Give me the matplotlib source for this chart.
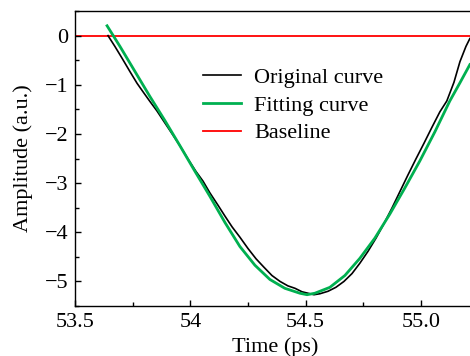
import numpy as np
from matplotlib import pyplot as plt
from matplotlib.ticker import FixedLocator, FixedFormatter, MultipleLocator

orig_t = [53.643, 53.673, 53.704, 53.738, 53.769, 53.796, 53.825, 53.855, 53.886, 53.920,
          53.955, 53.990, 54.024, 54.055, 54.085, 54.120, 54.150, 54.181, 54.215, 54.250,
          54.285, 54.319, 54.354, 54.389, 54.423, 54.454, 54.484, 54.510, 54.536, 54.562,
          54.597, 54.631, 54.666, 54.701, 54.735, 54.770, 54.805, 54.839, 54.874, 54.909,
          54.943, 54.978, 55.013, 55.047, 55.082, 55.112, 55.143, 55.169, 55.195, 55.212]
orig_amp = [0.00, -0.22, -0.46, -0.73, -0.97, -1.15, -1.34, -1.53, -1.75, -1.99,
            -2.24, -2.51, -2.76, -2.96, -3.20, -3.45, -3.67, -3.89, -4.10, -4.33,
            -4.54, -4.71, -4.88, -5.00, -5.09, -5.14, -5.21, -5.24, -5.27, -5.25,
            -5.20, -5.12, -5.00, -4.84, -4.63, -4.39, -4.12, -3.83, -3.51, -3.17,
            -2.84, -2.51, -2.19, -1.87, -1.55, -1.33, -0.95, -0.53, -0.22, -0.06]

# Fitting curve
fit_t = [53.639, 53.695, 53.760, 53.825, 53.890, 53.955, 54.020, 54.085, 54.150, 54.215,
         54.280, 54.345, 54.410, 54.475, 54.506, 54.540, 54.605, 54.670, 54.735, 54.800,
         54.865, 54.930, 54.995, 55.060, 55.125, 55.169, 55.212]
fit_amp = [0.20, -0.22, -0.73, -1.24, -1.73, -2.24, -2.76, -3.27, -3.80, -4.29,
           -4.67, -4.96, -5.14, -5.24, -5.27, -5.24, -5.12, -4.88, -4.53, -4.12,
           -3.63, -3.10, -2.55, -1.96, -1.33, -0.96, -0.59]

baseline = 0.0

x_ticks = [53.5, 54.0, 54.5, 55.0]
x_labels = ['53.5', '54', '54.5', '55.0']
y_ticks = [0, -1, -2, -3, -4, -5]
y_labels = ['0', '\u22121', '\u22122', '\u22123', '\u22124', '\u22125']

plt.rcParams['font.family'] = ['Liberation Serif', 'DejaVu Serif']
plt.rcParams['font.size'] = 16

fig = plt.figure(figsize=(4.7, 3.56), dpi=100)
# axes run a bit past the right edge, the reference is cut off there
ax = fig.add_axes([0.1596, 0.1404, 0.8504, 0.8286])

ax.axhline(baseline, color='#ff0000', lw=1.3, zorder=1)
ax.plot(orig_t, orig_amp, color='black', lw=1.2, label='Original curve', zorder=2)
ax.plot(fit_t, fit_amp, color='#00b050', lw=2.0, label='Fitting curve', zorder=3)
ax.plot([], [], color='#ff0000', lw=1.3, label='Baseline')

ax.set_xlim(53.5, 55.233)
ax.set_ylim(-5.5, 0.5)

ax.xaxis.set_major_locator(FixedLocator(x_ticks))
ax.xaxis.set_major_formatter(FixedFormatter(x_labels))
ax.xaxis.set_minor_locator(MultipleLocator(0.25))
ax.yaxis.set_major_locator(FixedLocator(y_ticks))
ax.yaxis.set_major_formatter(FixedFormatter(y_labels))
ax.yaxis.set_minor_locator(MultipleLocator(0.5))

ax.tick_params(which='both', direction='in', top=False, right=False, width=1.0)
ax.tick_params(which='major', length=4.5, pad=5)
ax.tick_params(which='minor', length=2.8)

for side in ['left', 'bottom', 'top']:
    ax.spines[side].set_linewidth(1.0)
ax.spines['right'].set_visible(False)

ax.set_xlabel('Time (ps)', labelpad=4)
ax.set_ylabel('Amplitude (a.u.)', labelpad=8)

ax.legend(loc='upper left', bbox_to_anchor=(0.32, 0.81), frameon=False,
          borderpad=0, borderaxespad=0, handlelength=1.7, handletextpad=0.6,
          labelspacing=0.33)

fig.savefig('out.png', dpi=100)
